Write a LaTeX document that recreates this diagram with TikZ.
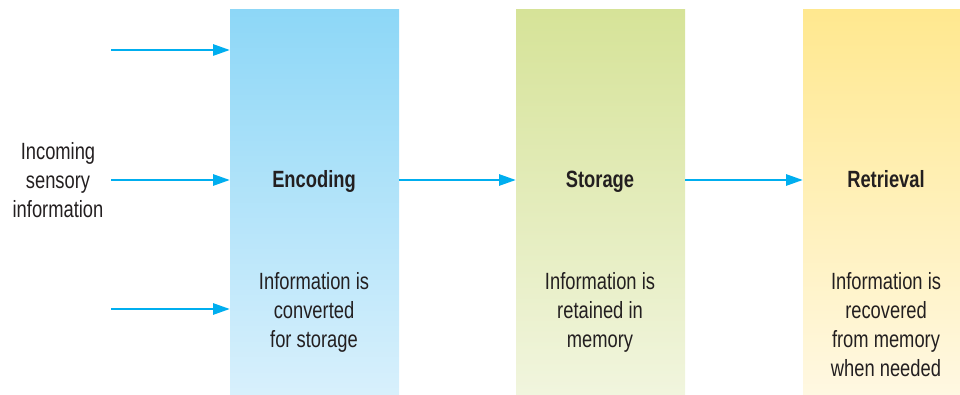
\documentclass[tikz,border=0pt]{standalone}
\usepackage{fontspec}
\setmainfont{Liberation Sans}[FakeStretch=0.78]
\usetikzlibrary{arrows.meta}
\definecolor{arr}{HTML}{00AEEF}
\definecolor{encT}{HTML}{8DD7F7}
\definecolor{encB}{HTML}{D8F0FC}
\definecolor{stoT}{HTML}{D6E398}
\definecolor{stoB}{HTML}{F1F5DE}
\definecolor{retT}{HTML}{FFE88F}
\definecolor{retB}{HTML}{FFF8E2}
\definecolor{txt}{HTML}{231F20}
\begin{document}
\begin{tikzpicture}[x=1pt,y=-1pt,
  flow/.style={draw=arr,line width=2.8pt,-{Triangle[length=17pt,width=11pt]}},
  stagebox/.style={minimum width=169pt,minimum height=386pt,inner sep=0pt,anchor=north west},
  lbl/.style={font=\fontsize{23.5}{29}\selectfont,text=txt,align=center,inner sep=0pt},
  ttl/.style={font=\fontsize{23.5}{29}\selectfont\bfseries,text=txt,inner sep=0pt,anchor=base}]
\useasboundingbox (0,0) rectangle (960,395);
\node[stagebox,top color=encT,bottom color=encB] (enc) at (230,9) {};
\node[stagebox,top color=stoT,bottom color=stoB] (sto) at (516,9) {};
\node[stagebox,minimum width=157pt,top color=retT,bottom color=retB] (ret) at (803,9) {};
\node[ttl] (enct) at (314,188) {Encoding};
\node[ttl] (stot) at (600,188) {Storage};
\node[ttl] (rett) at (886,188) {Retrieval};
\node[lbl,anchor=north] (encd) at (314,272) {Information is\\converted\\for storage};
\node[lbl,anchor=north] (stod) at (600,272) {Information is\\retained in\\memory};
\node[lbl,anchor=north] (retd) at (886,272) {Information is\\recovered\\from memory\\when needed};
\node[lbl] (inc) at (58,180) {Incoming\\sensory\\information};
\coordinate (a1) at (111,50);
\coordinate (a2) at (111,180);
\coordinate (a3) at (111,309);
\draw[flow] (a1) -- (a1 -| enc.west);
\draw[flow] (a2) -- (a2 -| enc.west);
\draw[flow] (a3) -- (a3 -| enc.west);
\draw[flow] (enc.east |- a2) -- (sto.west |- a2);
\draw[flow] (sto.east |- a2) -- (ret.west |- a2);
\end{tikzpicture}
\end{document}
